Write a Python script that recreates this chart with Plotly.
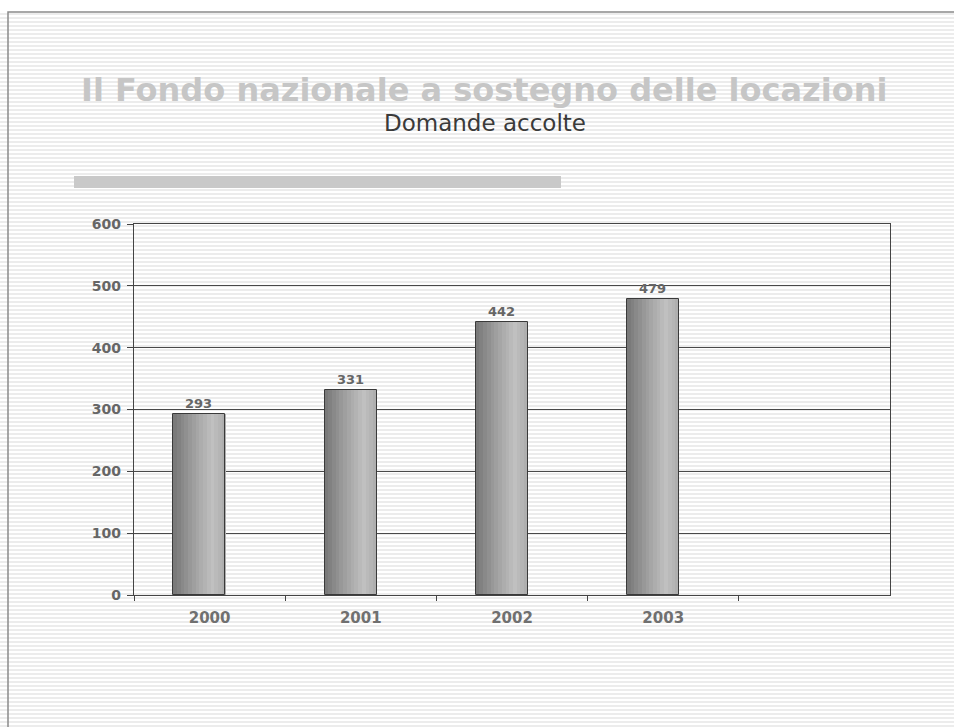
import plotly.graph_objects as go

# ---- data ----
years = ["2000", "2001", "2002", "2003"]
domande = [293, 331, 442, 479]
y_ticks = [0, 100, 200, 300, 400, 500, 600]

title_text = "Il Fondo nazionale a sostegno delle locazioni"
subtitle_text = "Domande accolte"

# ---- layout geometry (pixels) ----
W, H = 954, 727
L, R, T, B = 134, 890, 224, 595


def xp(px):
    return (px - L) / (R - L)


def yp(py):
    return (B - py) / (B - T)


fig = go.Figure()

# gradient-filled bars made of thin vertical slices
bar_w = 0.345
bar_off = -0.24
n_slices = 14
stops = [(0.0, 118), (0.45, 165), (0.75, 192), (1.0, 172)]


def grey_at(t):
    for (t0, c0), (t1, c1) in zip(stops[:-1], stops[1:]):
        if t0 <= t <= t1:
            c = c0 + (c1 - c0) * (t - t0) / (t1 - t0)
            c = int(round(c))
            return f"rgb({c},{c},{c})"
    return "rgb(170,170,170)"


sw = bar_w / n_slices
for i in range(n_slices):
    t = (i + 0.5) / n_slices
    fig.add_trace(go.Bar(
        x=years, y=domande,
        width=sw * 1.08, offset=bar_off + i * sw,
        marker=dict(color=grey_at(t), line=dict(width=0)),
        hoverinfo="skip", showlegend=False,
    ))

# outline + labels
fig.add_trace(go.Bar(
    x=years, y=domande,
    width=bar_w, offset=bar_off,
    marker=dict(color="rgba(0,0,0,0)", line=dict(color="#3a3a3a", width=1)),
    text=[str(v) for v in domande],
    textposition="outside",
    textfont=dict(family="DejaVu Sans", size=13, color="#666666", weight="bold"),
    cliponaxis=False,
    showlegend=False,
))

# background stripes (scan-line texture)
stripe_path = " ".join(
    f"M {xp(0):.4f},{yp(py):.4f} L {xp(W):.4f},{yp(py):.4f}"
    for py in range(14, H, 4)
)

shapes = [
    dict(type="path", xref="paper", yref="paper", path=stripe_path,
         line=dict(color="#e6e6e6", width=1.3), layer="below"),
    # page border (top and left visible)
    dict(type="rect", xref="paper", yref="paper",
         x0=xp(8), x1=xp(W + 20), y0=yp(H + 20), y1=yp(12),
         line=dict(color="#8a8a8a", width=1.5), fillcolor="rgba(0,0,0,0)",
         layer="below"),
    # grey decorative bar under the title
    dict(type="rect", xref="paper", yref="paper",
         x0=xp(74), x1=xp(561), y0=yp(188), y1=yp(176),
         line=dict(width=0), fillcolor="#c9c9c9", layer="above"),
]

annotations = [
    dict(text=f"<b>{title_text}</b>", xref="paper", yref="paper",
         x=xp(484), y=yp(90), xanchor="center", yanchor="middle",
         showarrow=False,
         font=dict(family="DejaVu Sans", size=32, color="#c6c6c6")),
    dict(text=subtitle_text, xref="paper", yref="paper",
         x=xp(485), y=yp(123), xanchor="center", yanchor="middle",
         showarrow=False,
         font=dict(family="DejaVu Sans", size=23, color="#3a3a3a")),
]

fig.update_layout(
    width=W, height=H,
    margin=dict(l=L, r=W - R, t=T, b=H - B, pad=0),
    paper_bgcolor="#ffffff",
    plot_bgcolor="#ffffff",
    barmode="overlay",
    bargap=0,
    showlegend=False,
    shapes=shapes,
    annotations=annotations,
    xaxis=dict(
        type="category",
        categoryorder="array", categoryarray=years,
        range=[-0.5, 4.5],
        tickson="boundaries",
        ticks="outside", ticklen=5, tickcolor="#444444", tickwidth=1,
        ticklabelstandoff=9,
        showline=True, linecolor="#444444", linewidth=1.2, mirror=True,
        showgrid=False, zeroline=False,
        tickfont=dict(family="DejaVu Sans", size=15, color="#707070", weight="bold"),
    ),
    yaxis=dict(
        range=[0, 600],
        tickmode="array", tickvals=y_ticks,
        ticks="outside", ticklen=6, tickcolor="#444444", tickwidth=1,
        ticklabelstandoff=3,
        showline=True, linecolor="#444444", linewidth=1.2, mirror=True,
        showgrid=True, gridcolor="#4a4a4a", gridwidth=1.3,
        zeroline=False,
        tickfont=dict(family="DejaVu Sans", size=14, color="#666666", weight="bold"),
    ),
)

fig.write_html("out.html")
